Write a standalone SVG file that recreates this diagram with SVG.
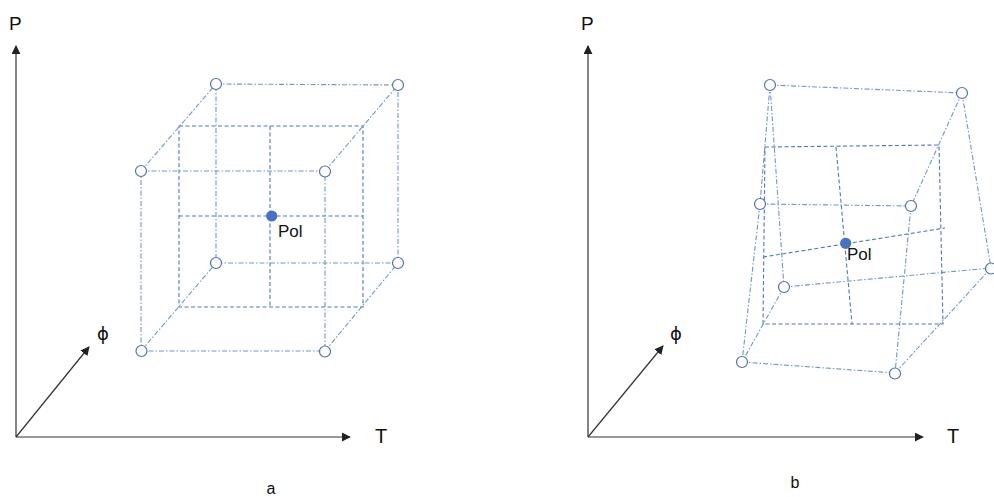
<svg xmlns="http://www.w3.org/2000/svg" width="994" height="497" viewBox="0 0 994 497">
<defs>
<marker id="arr" viewBox="0 0 10 10" refX="9" refY="5" markerWidth="9" markerHeight="9" markerUnits="userSpaceOnUse" orient="auto">
<path d="M0,0 L10,5 L0,10 z" fill="#222"/>
</marker>
<style>
.ax{stroke:#333;stroke-width:1.2;fill:none}
.dd{stroke:#6f95d8;stroke-width:1.1;stroke-dasharray:5 2 1.5 2;fill:none}
.ds{stroke:#4a78cc;stroke-width:1.1;stroke-dasharray:4 2.5;fill:none}
.nd{fill:#fff;stroke:#4f70bd;stroke-width:1.2}
.pol{fill:#4472c4}
.lbl{font-family:"Liberation Sans",Arial,sans-serif;fill:#111}
.phi{font-family:"DejaVu Sans","Liberation Sans",sans-serif;fill:#111}
</style>
</defs>
<rect width="994" height="497" fill="#fff"/>

<!-- Panel a -->
<g id="axes-a">
<line class="ax" x1="16" y1="437" x2="16" y2="46" marker-end="url(#arr)"/>
<line class="ax" x1="16" y1="437" x2="350" y2="437" marker-end="url(#arr)"/>
<line class="ax" x1="16" y1="437" x2="89" y2="347" marker-end="url(#arr)"/>
<text class="lbl" x="9" y="30" font-size="19">P</text>
<text class="lbl" x="375" y="443" font-size="20">T</text>
<text class="phi" x="103" y="340" font-size="18" text-anchor="middle">ϕ</text>
<text class="lbl" x="271" y="494" font-size="16" text-anchor="middle">a</text>
</g>
<g id="connectors-a">
<polyline class="dd" points="216,84 398,85 398,263 216,263 216,84"/>
<polyline class="dd" points="141,171 325,171 325,351 141,351 141,171"/>
<line class="dd" x1="141" y1="171" x2="216" y2="84"/>
<line class="dd" x1="325" y1="171" x2="398" y2="85"/>
<line class="dd" x1="141" y1="351" x2="216" y2="263"/>
<line class="dd" x1="325" y1="351" x2="398" y2="263"/>
<rect class="ds" x="179" y="126" width="184" height="181"/>
<line class="ds" x1="270" y1="126" x2="270" y2="307"/>
<line class="ds" x1="179" y1="216" x2="363" y2="216"/>
</g>
<g id="nodes-a">
<circle class="nd" cx="216" cy="84" r="5.5"/>
<circle class="nd" cx="398" cy="85" r="5.5"/>
<circle class="nd" cx="141" cy="171" r="5.5"/>
<circle class="nd" cx="325" cy="171.5" r="5.5"/>
<circle class="nd" cx="216" cy="263" r="5.5"/>
<circle class="nd" cx="398" cy="263" r="5.5"/>
<circle class="nd" cx="141.5" cy="351" r="5.5"/>
<circle class="nd" cx="325" cy="351.5" r="5.5"/>
</g>
<g id="pol-a">
<circle class="pol" cx="271.7" cy="216" r="5.6"/>
<text class="lbl" x="278" y="237" font-size="17">Pol</text>
</g>

<!-- Panel b -->
<g id="axes-b">
<line class="ax" x1="588" y1="437" x2="588" y2="46" marker-end="url(#arr)"/>
<line class="ax" x1="588" y1="437" x2="923" y2="437" marker-end="url(#arr)"/>
<line class="ax" x1="588" y1="437" x2="663" y2="346" marker-end="url(#arr)"/>
<text class="lbl" x="581" y="30" font-size="19">P</text>
<text class="lbl" x="947" y="443" font-size="20">T</text>
<text class="phi" x="676" y="340" font-size="18" text-anchor="middle">ϕ</text>
<text class="lbl" x="795" y="488" font-size="16" text-anchor="middle">b</text>
</g>
<g id="connectors-b">
<line class="dd" x1="770" y1="85" x2="962" y2="93"/>
<line class="dd" x1="770" y1="85" x2="760" y2="204"/>
<line class="dd" x1="770" y1="85" x2="784" y2="287"/>
<line class="dd" x1="962" y1="93" x2="911" y2="206"/>
<line class="dd" x1="962" y1="93" x2="991" y2="268"/>
<line class="dd" x1="760" y1="204" x2="911" y2="206"/>
<line class="dd" x1="760" y1="204" x2="742" y2="362"/>
<line class="dd" x1="911" y1="206" x2="895" y2="373"/>
<line class="dd" x1="784" y1="287" x2="991" y2="268"/>
<line class="dd" x1="784" y1="287" x2="742" y2="362"/>
<line class="dd" x1="742" y1="362" x2="895" y2="373"/>
<line class="dd" x1="895" y1="373" x2="991" y2="268"/>
<polygon class="ds" points="765,147 939,145 943,324 763,324"/>
<line class="ds" x1="836" y1="147" x2="852" y2="324"/>
<line class="ds" x1="763" y1="257" x2="945" y2="228"/>
</g>
<g id="nodes-b">
<circle class="nd" cx="770" cy="85" r="5.5"/>
<circle class="nd" cx="962" cy="93" r="5.5"/>
<circle class="nd" cx="760" cy="204" r="5.5"/>
<circle class="nd" cx="911" cy="206" r="5.5"/>
<circle class="nd" cx="784" cy="287" r="5.5"/>
<circle class="nd" cx="991" cy="268.5" r="5.5"/>
<circle class="nd" cx="742" cy="362" r="5.5"/>
<circle class="nd" cx="895" cy="373.5" r="5.5"/>
</g>
<g id="pol-b">
<circle class="pol" cx="845.7" cy="243.3" r="5.6"/>
<text class="lbl" x="847" y="260" font-size="17">Pol</text>
</g>
</svg>
